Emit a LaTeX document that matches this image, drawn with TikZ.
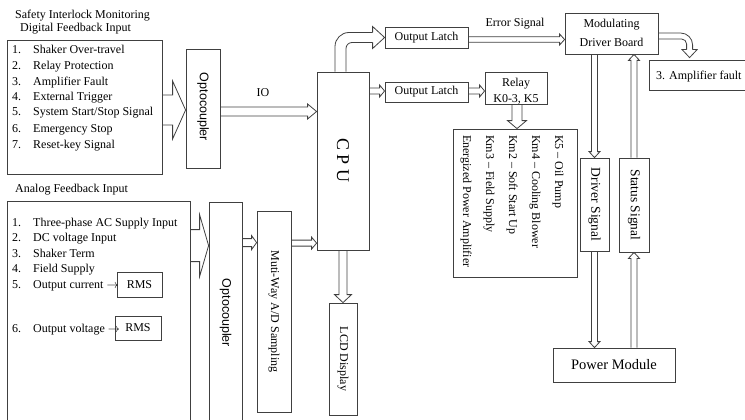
\documentclass[tikz,border=0pt]{standalone}
\usepackage{fontspec}
\setmainfont{Liberation Serif}
\newfontfamily\optofont{Liberation Sans}
\usetikzlibrary{calc}
\newcommand{\blkarrow}[5]{% from, to, shaft half, head half, head length
  \coordinate (bH) at ($(#2)!#5!(#1)$);
  \draw[arr] ($(#1)!#3!90:(#2)$) -- ($(bH)!#3!90:(#2)$) -- ($(bH)!#4!90:(#2)$) -- (#2)
     -- ($(bH)!#4!-90:(#2)$) -- ($(bH)!#3!-90:(#2)$) -- ($(#1)!#3!-90:(#2)$);
}
\begin{document}
\begin{tikzpicture}[x=1pt,y=-1pt,
  ln/.style={draw=black!75, line width=0.8pt},
  box/.style={ln, rectangle, inner sep=0pt, font=\fontsize{12}{14}\selectfont},
  txt/.style={inner sep=0pt, font=\fontsize{12}{14}\selectfont},
  rtxt/.style={txt, rotate=-90},
  otxt/.style={inner sep=0pt, rotate=-90, font=\optofont\fontsize{12.5}{14}\selectfont},
  arr/.style={ln, line join=miter}]
\useasboundingbox (0,0) rectangle (745,420);
\clip (0,0) rectangle (745,420);

% titles
\node[txt, anchor=base west] (t1) at (15,19) {Safety Interlock Monitoring};
\node[txt, anchor=base west] (t2) at (20,32) {Digital Feedback Input};
\node[txt, anchor=base west] (t3) at (15,192) {Analog Feedback Input};

% boxes
\node[box, minimum width=155, minimum height=134] (dig) at (84.5,107) {};
\node[box, minimum width=34, minimum height=119] (opto1) at (203,108.5) {};
\node[otxt] (opto1t) at (203,107) {Optocoupler};
\node[box, minimum width=52, minimum height=178] (cpu) at (343,161) {};
\node[txt, rotate=-90, font=\fontsize{18}{20}\selectfont] (cput) at (343,160.5) {C P U};
\node[box, minimum width=83, minimum height=21] (latch1) at (426.5,37.5) {Output Latch};
\node[box, minimum width=83, minimum height=20] (latch2) at (426.5,92) {Output Latch};
\node[box, minimum width=93, minimum height=41] (mod) at (611.5,33.5) {};
\node[txt, anchor=base] (modt1) at (611.5,27.5) {Modulating};
\node[txt, anchor=base] (modt2) at (611.5,46.5) {Driver Board};
\node[box, minimum width=105, minimum height=30] (amp) at (701.5,75) {};
\node[txt, anchor=base west] (ampt) at (656,79.5) {3. Amplifier fault};
\node[box, minimum width=62, minimum height=32] (relay) at (516,88) {};
\node[txt, anchor=base] (relayt1) at (516,86.5) {Relay};
\node[txt, anchor=base] (relayt2) at (516,102.5) {K0-3, K5};
\node[box, minimum width=124, minimum height=148] (km) at (515,203) {};
\node[rtxt, anchor=west] (km1) at (558,135) {K5 -- Oil Pump};
\node[rtxt, anchor=west] (km2) at (535,135) {Km4 -- Cooling Blower};
\node[rtxt, anchor=west] (km3) at (512,135) {Km2 -- Soft Start Up};
\node[rtxt, anchor=west] (km4) at (489,135) {Km3 -- Field Supply};
\node[rtxt, anchor=west] (km5) at (466,135) {Energized Power Amplifier};
\node[box, minimum width=29, minimum height=93] (drv) at (594.5,204.5) {};
\node[rtxt, font=\fontsize{13.5}{15}\selectfont] (drvt) at (drv) {Driver Signal};
\node[box, minimum width=30, minimum height=94] (sts) at (634,205) {};
\node[rtxt, font=\fontsize{13.5}{15}\selectfont] (stst) at (sts) {Status Signal};
\node[box, minimum width=122, minimum height=34, font=\fontsize{14.5}{16}\selectfont] (pm) at (614,365) {Power Module};

\node[box, minimum width=183, minimum height=239] (ana) at (98.5,320.5) {};
\node[box, minimum width=45, minimum height=25] (rms1) at (139.5,284.5) {RMS};
\node[box, minimum width=46, minimum height=24] (rms2) at (138,328) {RMS};
\node[box, minimum width=33, minimum height=238] (opto2) at (225.5,321) {};
\node[otxt] (opto2t) at (225.5,313) {Optocoupler};
\node[box, minimum width=34, minimum height=201] (mad) at (274,311.5) {};
\node[rtxt] (madt) at (mad) {Muti-Way A/D Sampling};
\node[box, minimum width=28, minimum height=112] (lcd) at (343,359) {};
\node[rtxt] (lcdt) at (lcd) {LCD Display};

% lists
\foreach \i/\y/\t in {1/50/Shaker Over-travel, 2/66/Relay Protection, 3/81/Amplifier Fault,
   4/97/External Trigger, 5/112/{System Start/Stop Signal}, 6/128/Emergency Stop, 7/144/Reset-key Signal}{
  \node[txt, anchor=base west] (dn\i) at (12,\y+4) {\i.};
  \node[txt, anchor=base west] (dt\i) at (33,\y+4) {\t};
}
\foreach \i/\y/\t in {1/222/Three-phase AC Supply Input, 2/237/DC voltage Input, 3/253/Shaker Term,
   4/268/Field Supply, 5/284/Output current $\rightarrow$, 6/328/Output voltage $\rightarrow$}{
  \node[txt, anchor=base west] (an\i) at (12,\y+4) {\i.};
  \node[txt, anchor=base west] (at\i) at (33,\y+4) {\t};
}

% labels
\node[txt, anchor=base] (io) at (263,97) {IO};
\node[txt, anchor=base] (err) at (515,27) {Error Signal};

% arrows
\coordinate (a1s) at ($(dig.east)+(0,3)$);
\coordinate (a1e) at (opto1.west |- a1s);
\blkarrow{a1s}{a1e}{15pt}{29pt}{13pt}
\coordinate (a2s) at ($(opto1.east)+(0,3)$);
\coordinate (a2e) at (cpu.west |- a2s);
\blkarrow{a2s}{a2e}{4.5pt}{7.5pt}{9pt}
\coordinate (a4s) at ($(cpu.east |- latch2.west)+(0,-1)$);
\coordinate (a4e) at (latch2.west |- a4s);
\blkarrow{a4s}{a4e}{3pt}{6pt}{5pt}
\coordinate (a5s) at ($(latch1.east)+(0,2)$);
\coordinate (a5e) at (mod.west |- a5s);
\blkarrow{a5s}{a5e}{2.8pt}{5.5pt}{5pt}
\coordinate (a6s) at ($(latch2.east)+(0,-1)$);
\coordinate (a6e) at (relay.west |- a6s);
\blkarrow{a6s}{a6e}{3pt}{6pt}{5pt}
\coordinate (a7s) at ($(relay.south)+(1,0)$);
\coordinate (a7e) at (a7s |- km.north);
\blkarrow{a7s}{a7e}{5pt}{9.5pt}{8pt}
\coordinate (a9s) at (drv.north |- mod.south);
\blkarrow{a9s}{drv.north}{3pt}{5.5pt}{6pt}
\coordinate (a10e) at (drv.south |- pm.north);
\blkarrow{drv.south}{a10e}{3pt}{5.5pt}{6pt}
\coordinate (a11s) at (sts.south |- pm.north);
\blkarrow{a11s}{sts.south}{3pt}{5.5pt}{6pt}
\coordinate (a12e) at (sts.north |- mod.south);
\blkarrow{sts.north}{a12e}{3pt}{5.5pt}{6pt}
\coordinate (a13s) at ($(ana.north east)+(0,45)$);
\coordinate (a13e) at (opto2.west |- a13s);
\blkarrow{a13s}{a13e}{16pt}{31pt}{9pt}
\coordinate (a14s) at ($(opto2.north east)+(0,41)$);
\coordinate (a14e) at (mad.west |- a14s);
\blkarrow{a14s}{a14e}{4pt}{7pt}{5pt}
\coordinate (a15s) at ($(mad.north east)+(0,32.5)$);
\coordinate (a15e) at (cpu.west |- a15s);
\blkarrow{a15s}{a15e}{3pt}{6pt}{5pt}
\coordinate (a16e) at (cpu.south |- lcd.north);
\blkarrow{cpu.south}{a16e}{4pt}{8.5pt}{8pt}

% curved arrow CPU -> latch1
\draw[ln, rounded corners=14pt] ($(cpu.north)+(-8,0)$) |- ($(latch1.west)+(-12,-5)$);
\draw[ln, rounded corners=6pt] ($(cpu.north)+(3,0)$) |- ($(latch1.west)+(-12,5)$);
\draw[arr] ($(latch1.west)+(-12,-5)$) -- ($(latch1.west)+(-12,-11)$) -- (latch1.west)
   -- ($(latch1.west)+(-12,11)$) -- ($(latch1.west)+(-12,5)$);

% curved arrow mod -> amp
\coordinate (t8) at ($(amp.north west)+(41,-2)$);
\draw[ln, rounded corners=12pt] ($(mod.east)+(0,-0.5)$) -| ($(t8)+(3,-8)$);
\draw[ln, rounded corners=5pt] ($(mod.east)+(0,5.5)$) -| ($(t8)+(-3,-8)$);
\draw[arr] ($(t8)+(3,-8)$) -- ($(t8)+(7.5,-8)$) -- (t8) -- ($(t8)+(-7.5,-8)$) -- ($(t8)+(-3,-8)$);
\end{tikzpicture}
\end{document}
